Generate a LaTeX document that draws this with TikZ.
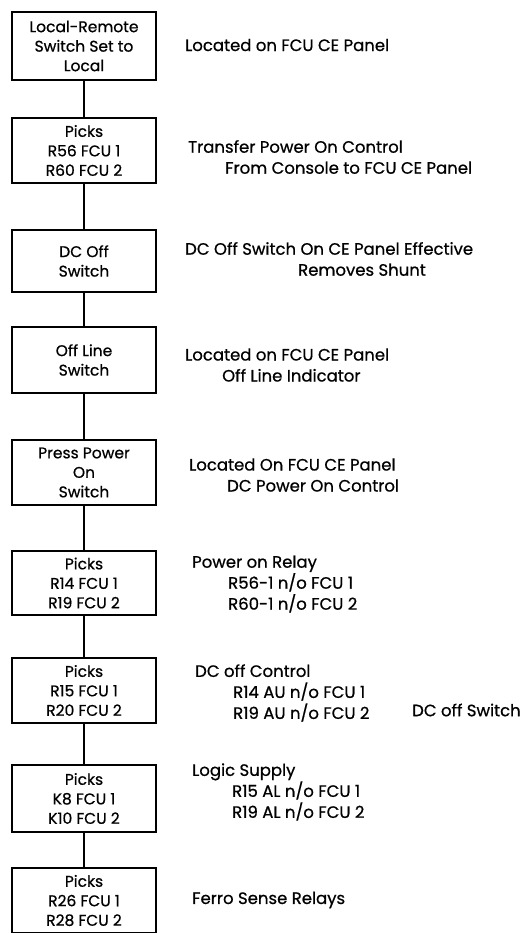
\documentclass[tikz,border=0pt]{standalone}
\usepackage{fontspec}
\setmainfont{Poppins}[FakeBold=0.7]
\usetikzlibrary{positioning}
\tikzset{
  stepbox/.style={
    draw, line width=2.2pt, minimum width=144pt, minimum height=65pt,
    align=center, inner sep=0pt, font=\fontsize{15.5}{19.5}\selectfont
  },
  note/.style={anchor=west, align=left, inner sep=0pt, font=\fontsize{16.5}{21}\selectfont},
  link/.style={line width=2pt}
}
\begin{document}
\begin{tikzpicture}[x=1pt, y=-1pt]
  \useasboundingbox (0,0) rectangle (526,933);
  \clip (0,0) rectangle (526,933);
  % sequence boxes
  \node[stepbox, minimum height=68pt] (s1) at (84,46) {Local-Remote\\Switch Set to\\Local};
  \node[stepbox] (s2) at (84,150.5) {Picks\\R56 FCU 1\\R60 FCU 2};
  \node[stepbox, minimum height=62pt] (s3) at (84,261) {DC Off\\Switch};
  \node[stepbox, minimum height=66pt] (s4) at (84,360) {Off Line\\Switch};
  \node[stepbox] (s5) at (84,472.5) {Press Power\\On\\Switch};
  \node[stepbox, minimum height=64pt] (s6) at (84,583) {Picks\\R14 FCU 1\\R19 FCU 2};
  \node[stepbox] (s7) at (84,690.5) {Picks\\R15 FCU 1\\R20 FCU 2};
  \node[stepbox, minimum height=67pt] (s8) at (84,798.5) {Picks\\K8 FCU 1\\K10 FCU 2};
  \node[stepbox] (s9) at (84,900.5) {Picks\\R26 FCU 1\\R28 FCU 2};
  % links
  \foreach \a/\b in {s1/s2, s2/s3, s3/s4, s4/s5, s5/s6, s6/s7, s7/s8, s8/s9}
    \draw[link] (\a) -- (\b);
  % notes
  \node[note] (n1) at (185,45) {Located on FCU CE Panel};
  \node[note] (n2) at (188,157) {Transfer Power On Control\\\hspace*{37pt}From Console to FCU CE Panel};
  \node[note] (n3) at (185,259) {DC Off Switch On CE Panel Effective\\\hspace*{113pt}Removes Shunt};
  \node[note] (n4) at (185,365) {Located on FCU CE Panel\\\hspace*{37pt}Off Line Indicator};
  \node[note] (n5) at (189,475) {Located On FCU CE Panel\\\hspace*{38pt}DC Power On Control};
  \node[note] (n6) at (192,584) {Power on Relay\\\hspace*{36pt}R56-1 n/o FCU 1\\\hspace*{36pt}R60-1 n/o FCU 2};
  \node[note] (n7) at (195,693) {DC off Control\\\hspace*{38pt}R14 AU n/o FCU 1\\\hspace*{38pt}R19 AU n/o FCU 2};
  \node[note] (n7b) at (412,710) {DC off Switch};
  \node[note] (n8) at (192,792) {Logic Supply\\\hspace*{40pt}R15 AL n/o FCU 1\\\hspace*{40pt}R19 AL n/o FCU 2};
  \node[note] (n9) at (192,900) {Ferro Sense Relays};
\end{tikzpicture}
\end{document}
